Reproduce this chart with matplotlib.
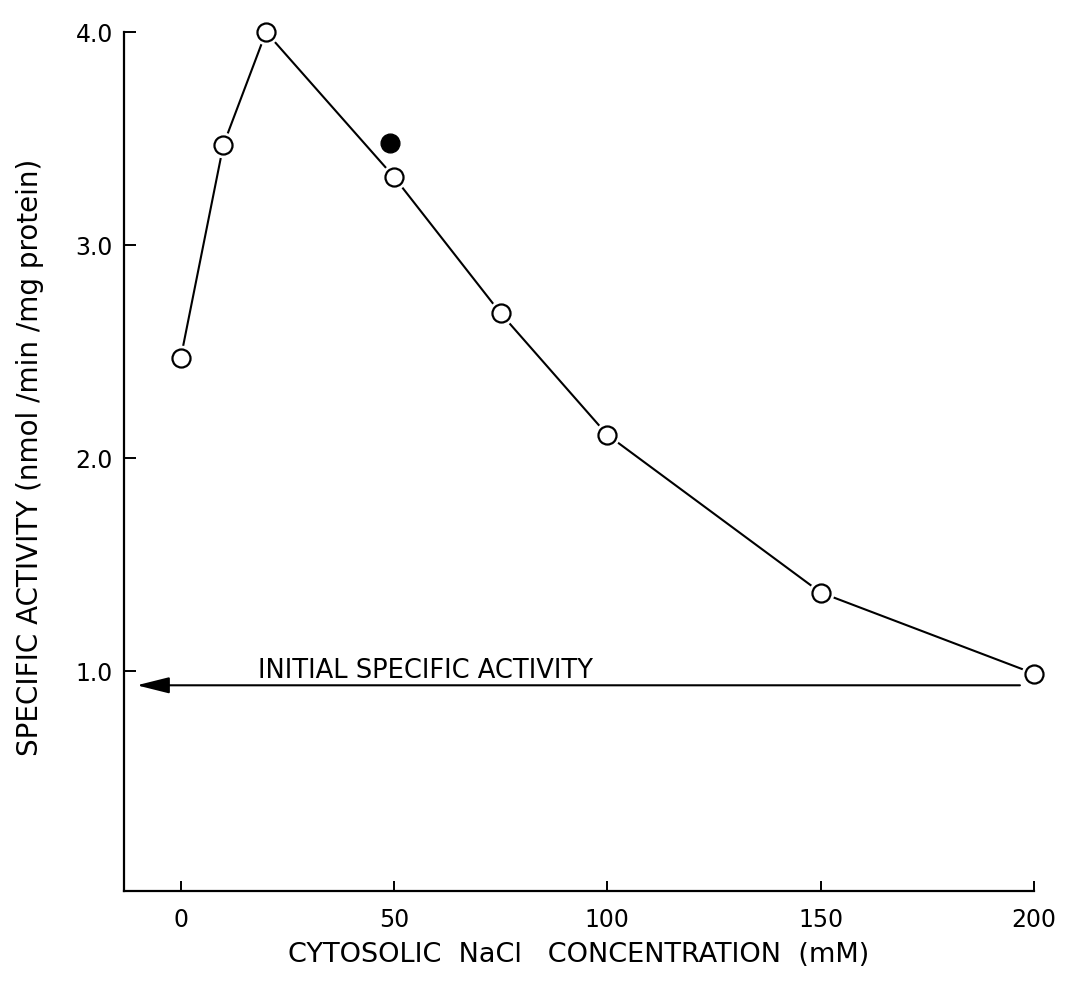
import matplotlib
matplotlib.use("Agg")
import matplotlib.pyplot as plt

# NaCl concentration (mM) and specific activity (nmol/min/mg protein)
nacl_mM = [0, 10, 20, 50, 75, 100, 150, 200]
activity = [2.47, 3.47, 4.00, 3.32, 2.68, 2.11, 1.37, 0.99]

# separate determination near 50 mM (filled symbol)
extra_x = [49]
extra_y = [3.48]

initial_activity = 0.935
arrow_from, arrow_to = 196.7, -10.3

x_ticks = [0, 50, 100, 150, 200]
x_tick_labels = ["0", "50", "100", "150", "200"]
y_ticks = [1.0, 2.0, 3.0, 4.0]
y_tick_labels = ["1.0", "2.0", "3.0", "4.0"]

plt.rcParams["font.family"] = ["DejaVu Sans"]
plt.rcParams["xtick.direction"] = "in"
plt.rcParams["ytick.direction"] = "in"

fig = plt.figure(figsize=(10.65, 9.88), dpi=100)
ax = fig.add_axes([0.1164, 0.0982, 0.8545, 0.8694])

ax.plot(nacl_mM, activity, color="black", lw=1.5, zorder=2, clip_on=False)
# white halo so the line stops short of each symbol
ax.plot(nacl_mM, activity, ls="none", marker="o", ms=17.5, mfc="white",
        mec="white", zorder=3, clip_on=False)
ax.plot(nacl_mM, activity, ls="none", marker="o", ms=13, mfc="white",
        mec="black", mew=1.6, zorder=4, clip_on=False)
ax.plot(extra_x, extra_y, ls="none", marker="o", ms=13.5, mfc="black",
        mec="black", zorder=4, clip_on=False)

ax.annotate("", xy=(arrow_to, initial_activity),
            xytext=(arrow_from, initial_activity),
            arrowprops=dict(arrowstyle="-|>,head_length=1.0,head_width=0.25",
                            lw=1.5, color="black", mutation_scale=20,
                            shrinkA=0, shrinkB=0))
ax.text(18.1, 0.97, "INITIAL SPECIFIC ACTIVITY", fontsize=18.5,
        ha="left", va="baseline")

ax.set_xlim(-13.3, 200)
ax.set_ylim(-0.03, 4.0)

for side in ("top", "right"):
    ax.spines[side].set_visible(False)
for side in ("left", "bottom"):
    ax.spines[side].set_linewidth(1.6)

ax.set_xticks(x_ticks)
ax.set_xticklabels(x_tick_labels)
ax.set_yticks(y_ticks)
ax.set_yticklabels(y_tick_labels)
ax.tick_params(axis="x", direction="in", length=7, width=1.4, pad=12,
               labelsize=17)
ax.tick_params(axis="y", direction="in", length=8.5, width=1.4, pad=8,
               labelsize=17)

ax.set_xlabel("CYTOSOLIC  NaCl   CONCENTRATION  (mM)", fontsize=19.5,
              va="center")
ax.xaxis.set_label_coords(0.5, -0.0745)
ax.set_ylabel("SPECIFIC ACTIVITY (nmol /min /mg protein)", fontsize=20,
              va="center")
ax.yaxis.set_label_coords(-0.103, 0.505)

fig.savefig("out.png", dpi=100, facecolor="white")
